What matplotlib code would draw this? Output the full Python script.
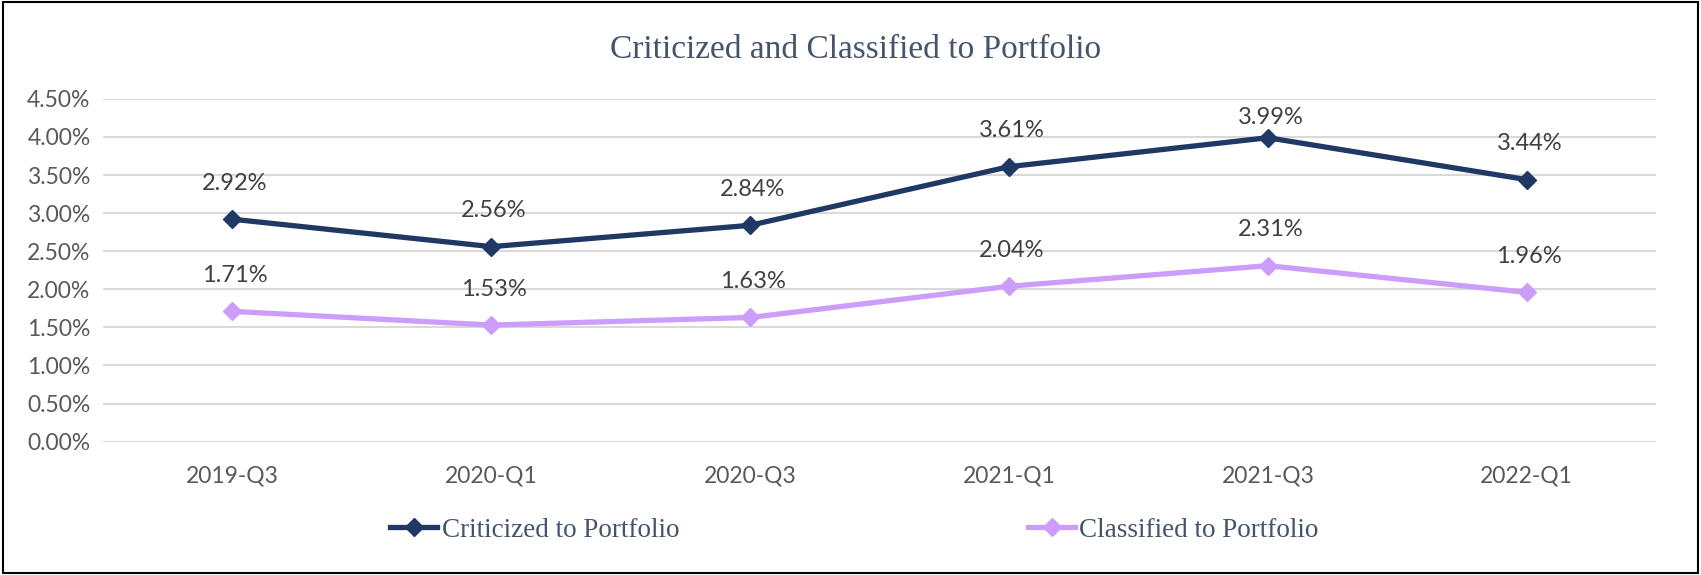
import matplotlib.pyplot as plt
from matplotlib.lines import Line2D
from matplotlib.patches import Rectangle
from matplotlib.ticker import FuncFormatter

quarters = ['2019-Q3', '2020-Q1', '2020-Q3', '2021-Q1', '2021-Q3', '2022-Q1']
criticized = [2.92, 2.56, 2.84, 3.61, 3.99, 3.44]
classified = [1.71, 1.53, 1.63, 2.04, 2.31, 1.96]
yticks = [0.0, 0.5, 1.0, 1.5, 2.0, 2.5, 3.0, 3.5, 4.0, 4.5]

navy = '#203864'
lilac = '#CC9DFA'
sans = 'Lato'
serif = 'Liberation Serif'

fig = plt.figure(figsize=(17.01, 5.75), dpi=100)
ax = fig.add_axes([0.0606, 0.232, 0.913, 0.596])

x = range(len(quarters))
ax.plot(x, criticized, color=navy, lw=3.8, marker='D', ms=9, zorder=3)
ax.plot(x, classified, color=lilac, lw=3.8, marker='D', ms=9, zorder=3)

# data labels above the points (kept inside the plot area like Excel does)
for series in (criticized, classified):
    for i in x:
        ax.text(i + 0.01, min(series[i] + 0.47, 4.26), '%.2f%%' % series[i], ha='center',
                va='center', fontsize=17, family=sans, color='#404040')

ax.set_xlim(-0.5, 5.5)
ax.set_ylim(0, 4.5)
ax.set_yticks(yticks)
ax.yaxis.set_major_formatter(FuncFormatter(lambda v, p: '%.2f%%' % v))
ax.set_xticks(list(x))
ax.set_xticklabels(quarters)
ax.grid(axis='y', color='#D9D9D9', lw=1.5)
ax.set_axisbelow(True)
for s in ax.spines.values():
    s.set_visible(False)
ax.tick_params(length=0, labelsize=16.5, labelcolor='#595959')
ax.tick_params(axis='x', pad=17)
ax.tick_params(axis='y', pad=9)
for lab in ax.get_xticklabels() + ax.get_yticklabels():
    lab.set_family(sans)

fig.text(0.503, 0.914, 'Criticized and Classified to Portfolio', ha='center', va='center',
         fontsize=24, family=serif, color='#44546A')

h1 = Line2D([], [], color=navy, lw=3.8, marker='D', ms=9)
h2 = Line2D([], [], color=lilac, lw=3.8, marker='D', ms=9)
fig.legend([h1], ['Criticized to Portfolio'], loc='center left',
           bbox_to_anchor=(0.215, 0.078), frameon=False, handlelength=1.75,
           handletextpad=0.15, prop={'family': serif, 'size': 19.5},
           labelcolor='#44546A')
fig.legend([h2], ['Classified to Portfolio'], loc='center left',
           bbox_to_anchor=(0.590, 0.078), frameon=False, handlelength=1.75,
           handletextpad=0.15, prop={'family': serif, 'size': 19.5},
           labelcolor='#44546A')

fig.patches.append(Rectangle((0.002, 0.003), 0.996, 0.994, transform=fig.transFigure,
                             fill=False, edgecolor='black', lw=1.5))

plt.savefig('out.png', dpi=100)
